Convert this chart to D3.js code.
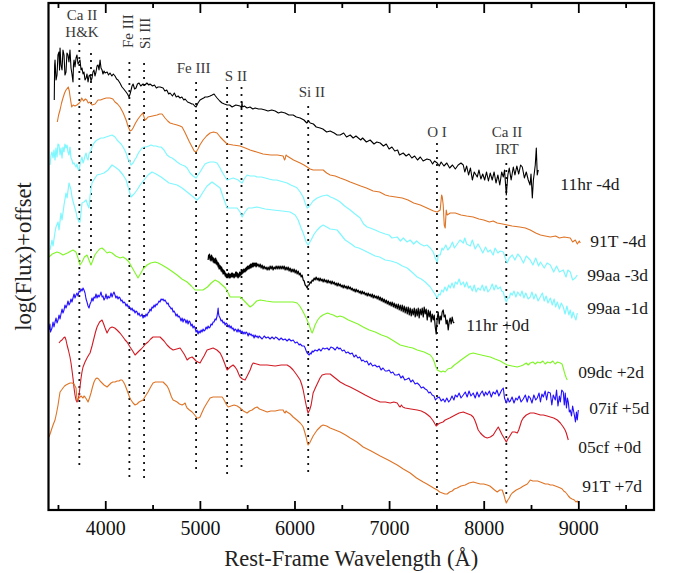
<!DOCTYPE html>
<html>
<head>
<meta charset="utf-8">
<script src="https://cdn.jsdelivr.net/npm/d3@7"></script>
<style>
  body { margin: 0; background: #fff; }
  svg { display: block; }
  text { font-family: "Liberation Serif", "DejaVu Serif", serif; }
</style>
</head>
<body>
<svg id="chart" width="673" height="573"></svg>
<script>
// Wavelength axis ticks (Å)
const majorTicks = [4000, 5000, 6000, 7000, 8000, 9000];
const minorTicks = [3500, 4500, 5500, 6500, 7500, 8500, 9500];

// Spectra: [rest-frame wavelength (Å), log(flux) + offset]
const sn11hrM4 = [
[3461,4.10],[3465,4.45],[3469,4.50],[3480,4.30],[3490,4.35],[3500,4.55],[3511,4.58],[3517,4.40],[3522,4.62],[3532,4.45],[3543,4.40],[3553,4.60],[3564,4.55],[3574,4.35],[3585,4.38],[3595,4.57],[3606,4.55],[3616,4.48],[3627,4.60],[3638,4.42],[3648,4.36],[3659,4.28],[3664,4.45],[3670,4.50],[3680,4.43],[3691,4.52],[3701,4.55],[3712,4.46],[3723,4.48],[3733,4.50],[3744,4.40],[3754,4.42],[3765,4.36],[3775,4.38],[3786,4.30],[3797,4.32],[3807,4.36],[3818,4.28],[3828,4.34],[3839,4.35],[3849,4.29],[3860,4.32],[3870,4.38],[3881,4.40],[3891,4.34],[3902,4.38],[3913,4.44],[3924,4.45],[3934,4.40],[3945,4.50],[3955,4.42],[3966,4.40],[3976,4.36],[3987,4.39],[3998,4.37],[4020,4.38],[4035,4.35],[4050,4.37],[4070,4.34],[4085,4.36],[4103,4.34],[4120,4.31],[4135,4.30],[4155,4.27],[4177,4.23],[4195,4.21],[4220,4.18],[4235,4.16],[4251,4.13],[4262,4.16],[4273,4.20],[4283,4.24],[4294,4.26],[4310,4.21],[4325,4.22],[4340,4.26],[4357,4.27],[4375,4.24],[4399,4.26],[4420,4.25],[4440,4.27],[4460,4.25],[4473,4.26],[4500,4.24],[4520,4.25],[4540,4.22],[4558,4.23],[4580,4.23],[4611,4.22],[4630,4.19],[4650,4.20],[4670,4.16],[4685,4.17],[4710,4.14],[4730,4.17],[4750,4.13],[4770,4.14],[4790,4.12],[4810,4.13],[4830,4.10],[4844,4.11],[4870,4.08],[4896,4.07],[4915,4.06],[4928,4.06],[4945,4.04],[4960,4.03],[4980,4.07],[5002,4.10],[5020,4.11],[5040,4.12],[5055,4.13],[5080,4.13],[5108,4.14],[5130,4.15],[5150,4.16],[5165,4.14],[5182,4.12],[5210,4.09],[5235,4.07],[5260,4.06],[5288,4.05],[5315,4.05],[5341,4.03],[5380,4.05],[5425,4.04],[5440,4.02],[5445,4.08],[5450,4.03],[5470,4.04],[5499,4.02],[5530,4.03],[5560,4.01],[5584,4.02],[5620,4.01],[5650,4.01],[5690,4.00],[5720,3.99],[5760,4.00],[5796,3.99],[5830,3.97],[5860,3.98],[5901,3.97],[5940,3.95],[5986,3.95],[6020,3.93],[6060,3.92],[6100,3.90],[6130,3.87],[6150,3.89],[6166,3.87],[6200,3.86],[6230,3.83],[6271,3.82],[6300,3.81],[6340,3.78],[6377,3.79],[6420,3.77],[6450,3.75],[6483,3.75],[6520,3.77],[6550,3.73],[6589,3.75],[6620,3.72],[6650,3.74],[6700,3.70],[6720,3.72],[6760,3.68],[6800,3.70],[6840,3.66],[6870,3.68],[6906,3.67],[6940,3.64],[6970,3.66],[7000,3.61],[7030,3.63],[7060,3.59],[7090,3.60],[7110,3.55],[7149,3.57],[7180,3.54],[7210,3.56],[7240,3.52],[7270,3.54],[7300,3.50],[7330,3.53],[7360,3.49],[7400,3.51],[7435,3.50],[7460,3.46],[7480,3.49],[7509,3.47],[7530,3.44],[7550,3.48],[7580,3.44],[7610,3.47],[7640,3.42],[7670,3.45],[7700,3.41],[7730,3.45],[7760,3.47],[7784,3.45],[7800,3.38],[7820,3.44],[7840,3.35],[7860,3.42],[7880,3.30],[7900,3.38],[7932,3.33],[7950,3.40],[7970,3.31],[7990,3.36],[8010,3.30],[8030,3.38],[8050,3.29],[8069,3.37],[8090,3.30],[8110,3.38],[8130,3.27],[8150,3.35],[8170,3.25],[8190,3.38],[8207,3.33],[8220,3.40],[8239,3.15],[8255,3.35],[8270,3.42],[8290,3.30],[8313,3.43],[8330,3.35],[8350,3.44],[8370,3.36],[8390,3.45],[8408,3.43],[8430,3.32],[8450,3.38],[8471,3.30],[8490,3.25],[8500,3.36],[8514,3.12],[8525,3.30],[8535,3.37],[8545,3.45],[8556,3.62],[8566,3.35],[8577,3.40]
];

const sn91TM4 = [
[3493,3.88],[3507,3.95],[3522,4.00],[3538,4.07],[3553,4.12],[3570,4.17],[3585,4.20],[3609,4.23],[3620,4.19],[3627,4.14],[3645,4.03],[3660,4.05],[3680,4.04],[3700,4.05],[3726,4.07],[3740,4.09],[3751,4.12],[3770,4.09],[3790,4.11],[3804,4.10],[3820,4.07],[3839,4.08],[3860,4.05],[3892,4.06],[3923,4.10],[3950,4.10],[3976,4.11],[4010,4.12],[4050,4.12],[4080,4.11],[4103,4.08],[4130,4.06],[4156,4.03],[4190,3.97],[4220,3.90],[4240,3.84],[4262,3.79],[4280,3.80],[4294,3.82],[4320,3.87],[4346,3.91],[4370,3.94],[4396,3.97],[4410,3.93],[4420,3.90],[4435,3.91],[4452,3.93],[4500,3.94],[4547,3.95],[4575,3.96],[4600,3.96],[4632,3.92],[4660,3.89],[4685,3.87],[4720,3.86],[4759,3.85],[4790,3.84],[4812,3.83],[4840,3.78],[4865,3.73],[4890,3.68],[4918,3.63],[4940,3.59],[4960,3.58],[4980,3.61],[5000,3.65],[5034,3.70],[5070,3.74],[5108,3.77],[5145,3.78],[5182,3.77],[5215,3.73],[5245,3.70],[5288,3.66],[5350,3.65],[5425,3.64],[5480,3.62],[5531,3.60],[5600,3.58],[5668,3.56],[5750,3.55],[5820,3.55],[5880,3.54],[5895,3.50],[5901,3.51],[5910,3.55],[5922,3.54],[5990,3.50],[6060,3.47],[6100,3.45],[6134,3.43],[6165,3.41],[6197,3.40],[6250,3.40],[6303,3.40],[6340,3.37],[6377,3.35],[6430,3.34],[6483,3.32],[6540,3.30],[6589,3.28],[6700,3.24],[6760,3.22],[6832,3.19],[6900,3.18],[6960,3.15],[7000,3.14],[7070,3.13],[7139,3.12],[7200,3.10],[7260,3.07],[7330,3.05],[7400,3.02],[7470,2.99],[7509,2.98],[7540,3.00],[7555,3.15],[7562,3.13],[7572,3.05],[7583,2.85],[7593,2.82],[7604,3.00],[7614,2.95],[7646,2.97],[7700,2.97],[7760,2.95],[7820,2.94],[7889,2.93],[7950,2.91],[8000,2.90],[8060,2.88],[8100,2.89],[8143,2.87],[8200,2.86],[8249,2.85],[8300,2.84],[8380,2.83],[8440,2.82],[8492,2.80],[8550,2.77],[8600,2.75],[8650,2.74],[8704,2.73],[8760,2.74],[8800,2.72],[8850,2.73],[8915,2.72],[8940,2.68],[8968,2.70],[8990,2.66],[9010,2.69],[9021,2.67]
];

const sn99aaM3 = [
[3416,3.45],[3427,3.55],[3437,3.58],[3448,3.52],[3458,3.60],[3469,3.50],[3479,3.62],[3490,3.53],[3500,3.66],[3511,3.65],[3522,3.55],[3532,3.62],[3543,3.52],[3553,3.63],[3564,3.58],[3574,3.66],[3585,3.62],[3596,3.65],[3606,3.58],[3617,3.55],[3627,3.63],[3638,3.52],[3648,3.50],[3659,3.46],[3670,3.47],[3680,3.45],[3691,3.43],[3701,3.46],[3712,3.41],[3723,3.40],[3733,3.45],[3744,3.50],[3754,3.53],[3765,3.47],[3775,3.50],[3786,3.54],[3797,3.57],[3807,3.52],[3818,3.50],[3828,3.56],[3839,3.58],[3849,3.60],[3860,3.63],[3881,3.67],[3900,3.69],[3913,3.70],[3935,3.71],[3955,3.72],[3980,3.72],[4008,3.73],[4040,3.74],[4072,3.75],[4103,3.73],[4125,3.70],[4145,3.68],[4167,3.66],[4188,3.63],[4205,3.60],[4220,3.57],[4240,3.51],[4251,3.50],[4272,3.45],[4294,3.47],[4310,3.50],[4325,3.52],[4340,3.55],[4357,3.58],[4389,3.62],[4410,3.63],[4431,3.63],[4460,3.64],[4484,3.65],[4510,3.64],[4537,3.64],[4565,3.63],[4590,3.63],[4621,3.60],[4653,3.55],[4680,3.53],[4706,3.52],[4735,3.50],[4759,3.48],[4790,3.46],[4812,3.45],[4840,3.44],[4865,3.42],[4896,3.37],[4928,3.34],[4960,3.32],[4980,3.35],[5002,3.38],[5034,3.43],[5055,3.46],[5076,3.47],[5108,3.48],[5130,3.48],[5150,3.48],[5182,3.47],[5214,3.42],[5235,3.38],[5267,3.33],[5288,3.30],[5320,3.31],[5351,3.32],[5380,3.31],[5404,3.30],[5430,3.28],[5447,3.27],[5468,3.31],[5499,3.35],[5530,3.34],[5552,3.34],[5580,3.34],[5605,3.33],[5650,3.33],[5690,3.32],[5730,3.31],[5774,3.30],[5810,3.30],[5848,3.29],[5885,3.28],[5922,3.27],[5960,3.25],[5986,3.24],[6010,3.23],[6028,3.22],[6060,3.18],[6092,3.13],[6113,3.07],[6134,3.02],[6150,3.03],[6166,3.05],[6197,3.09],[6240,3.12],[6292,3.14],[6345,3.15],[6380,3.13],[6409,3.12],[6450,3.10],[6483,3.08],[6530,3.04],[6589,3.00],[6640,2.96],[6694,2.92],[6730,2.86],[6768,2.83],[6800,2.82],[6853,2.80],[6900,2.78],[6959,2.76],[7000,2.75],[7030,2.72],[7086,2.73],[7120,2.69],[7150,2.72],[7190,2.68],[7223,2.70],[7260,2.66],[7290,2.69],[7329,2.66],[7370,2.64],[7400,2.65],[7435,2.62],[7467,2.58],[7488,2.52],[7509,2.48],[7520,2.55],[7540,2.55],[7560,2.62],[7572,2.60],[7600,2.65],[7620,2.60],[7646,2.63],[7670,2.68],[7690,2.62],[7720,2.66],[7750,2.70],[7784,2.67],[7800,2.72],[7820,2.66],[7858,2.64],[7880,2.70],[7910,2.61],[7940,2.66],[7964,2.62],[7990,2.57],[8020,2.63],[8045,2.58],[8069,2.60],[8100,2.55],[8120,2.62],[8150,2.57],[8175,2.59],[8207,2.58],[8228,2.52],[8249,2.47],[8270,2.52],[8302,2.55],[8330,2.50],[8360,2.56],[8387,2.53],[8420,2.47],[8450,2.54],[8492,2.50],[8520,2.45],[8550,2.52],[8580,2.44],[8600,2.48],[8640,2.42],[8670,2.47],[8704,2.45],[8740,2.38],[8770,2.44],[8800,2.38],[8841,2.40],[8870,2.33],[8890,2.40],[8915,2.38],[8940,2.30],[8968,2.32],[8989,2.35]
];

const sn99aaM1 = [
[3416,2.60],[3437,2.70],[3448,2.64],[3469,2.78],[3479,2.83],[3501,2.88],[3511,2.80],[3532,2.97],[3543,2.90],[3564,3.05],[3585,3.17],[3596,3.12],[3617,3.27],[3638,3.20],[3648,3.13],[3670,3.05],[3691,2.98],[3701,2.93],[3723,2.88],[3733,2.88],[3744,2.98],[3754,3.07],[3775,3.08],[3797,3.10],[3818,3.04],[3828,3.02],[3839,3.14],[3849,3.20],[3860,3.27],[3892,3.32],[3913,3.35],[3955,3.36],[3987,3.37],[4029,3.40],[4072,3.45],[4103,3.43],[4145,3.40],[4188,3.35],[4220,3.30],[4251,3.20],[4272,3.13],[4304,3.16],[4336,3.20],[4368,3.25],[4410,3.30],[4452,3.35],[4494,3.38],[4537,3.36],[4590,3.33],[4632,3.30],[4674,3.27],[4717,3.26],[4759,3.25],[4812,3.22],[4865,3.18],[4918,3.14],[4970,3.10],[5002,3.13],[5034,3.18],[5076,3.24],[5129,3.28],[5171,3.25],[5214,3.22],[5245,3.13],[5288,3.02],[5341,3.02],[5393,3.02],[5425,2.98],[5447,2.93],[5478,2.98],[5510,3.02],[5552,3.02],[5605,3.03],[5690,3.01],[5774,3.00],[5869,2.99],[5954,2.98],[6007,2.95],[6039,2.90],[6070,2.82],[6092,2.77],[6123,2.68],[6144,2.65],[6176,2.70],[6208,2.76],[6240,2.80],[6271,2.83],[6303,2.85],[6377,2.81],[6451,2.80],[6536,2.70],[6600,2.66],[6641,2.63],[6680,2.62],[6726,2.60],[6790,2.57],[6853,2.54],[6900,2.53],[6959,2.50],[7020,2.49],[7086,2.47],[7140,2.44],[7191,2.42],[7240,2.38],[7297,2.33],[7340,2.31],[7382,2.28],[7435,2.23],[7477,2.17],[7509,2.12],[7525,2.16],[7540,2.15],[7556,2.20],[7572,2.18],[7590,2.23],[7610,2.19],[7630,2.25],[7646,2.22],[7665,2.27],[7685,2.22],[7700,2.28],[7720,2.26],[7740,2.31],[7760,2.25],[7784,2.28],[7800,2.23],[7820,2.28],[7840,2.22],[7858,2.24],[7880,2.19],[7900,2.25],[7920,2.18],[7940,2.22],[7964,2.20],[7985,2.25],[8005,2.19],[8025,2.24],[8045,2.18],[8069,2.21],[8090,2.26],[8110,2.20],[8130,2.25],[8150,2.21],[8175,2.23],[8190,2.19],[8207,2.18],[8220,2.13],[8239,2.08],[8255,2.12],[8270,2.12],[8285,2.17],[8302,2.15],[8320,2.19],[8340,2.13],[8360,2.18],[8387,2.14],[8405,2.19],[8425,2.12],[8445,2.17],[8470,2.11],[8492,2.13],[8510,2.18],[8530,2.11],[8550,2.16],[8575,2.09],[8598,2.13],[8620,2.17],[8640,2.09],[8660,2.14],[8680,2.07],[8704,2.12],[8725,2.05],[8745,2.11],[8760,2.03],[8778,2.08],[8800,2.01],[8820,2.07],[8841,2.03],[8860,1.96],[8880,2.04],[8900,1.95],[8915,2.00],[8930,1.92],[8945,1.98],[8958,1.94],[8975,1.90],[8989,1.97]
];

const sn11hrP0 = [
[5087,2.50],[5092,2.55],[5097,2.52],[5102,2.56],[5108,2.50],[5113,2.54],[5118,2.49],[5124,2.55],[5130,2.50],[5135,2.53],[5140,2.48],[5146,2.52],[5151,2.47],[5156,2.51],[5161,2.47],[5167,2.52],[5172,2.46],[5177,2.50],[5182,2.45],[5188,2.48],[5193,2.43],[5198,2.47],[5203,2.41],[5209,2.45],[5214,2.41],[5219,2.44],[5224,2.39],[5230,2.43],[5235,2.38],[5240,2.41],[5245,2.36],[5251,2.40],[5256,2.36],[5261,2.39],[5267,2.34],[5272,2.37],[5277,2.33],[5282,2.36],[5288,2.32],[5293,2.36],[5298,2.33],[5304,2.37],[5309,2.32],[5314,2.36],[5320,2.32],[5325,2.36],[5330,2.33],[5336,2.37],[5341,2.33],[5346,2.37],[5351,2.33],[5357,2.36],[5362,2.32],[5367,2.36],[5372,2.33],[5378,2.38],[5383,2.34],[5388,2.38],[5393,2.33],[5399,2.37],[5404,2.32],[5409,2.36],[5414,2.33],[5420,2.38],[5425,2.34],[5430,2.38],[5436,2.35],[5441,2.40],[5446,2.36],[5452,2.40],[5457,2.37],[5462,2.41],[5468,2.38],[5473,2.41],[5478,2.38],[5484,2.42],[5489,2.39],[5494,2.43],[5499,2.40],[5505,2.44],[5510,2.41],[5515,2.44],[5520,2.41],[5526,2.45],[5531,2.42],[5536,2.46],[5541,2.42],[5547,2.46],[5552,2.43],[5557,2.47],[5563,2.43],[5568,2.47],[5573,2.44],[5579,2.47],[5584,2.44],[5590,2.47],[5595,2.43],[5600,2.47],[5605,2.44],[5615,2.46],[5626,2.43],[5637,2.46],[5647,2.42],[5658,2.45],[5668,2.41],[5679,2.44],[5690,2.41],[5700,2.43],[5711,2.40],[5721,2.43],[5732,2.40],[5743,2.44],[5753,2.41],[5764,2.44],[5774,2.40],[5785,2.43],[5796,2.41],[5806,2.44],[5817,2.41],[5827,2.44],[5838,2.41],[5848,2.44],[5859,2.41],[5870,2.44],[5880,2.41],[5891,2.44],[5901,2.40],[5912,2.43],[5922,2.40],[5933,2.43],[5943,2.39],[5954,2.42],[5965,2.38],[5975,2.41],[5986,2.38],[5996,2.41],[6007,2.37],[6018,2.40],[6028,2.36],[6039,2.39],[6050,2.35],[6060,2.37],[6071,2.33],[6081,2.35],[6092,2.30],[6102,2.29],[6113,2.25],[6123,2.24],[6134,2.22],[6145,2.25],[6155,2.25],[6166,2.28],[6176,2.27],[6187,2.30],[6197,2.29],[6208,2.32],[6218,2.30],[6229,2.33],[6240,2.30],[6250,2.32],[6261,2.29],[6271,2.32],[6282,2.29],[6292,2.31],[6303,2.28],[6314,2.31],[6324,2.28],[6335,2.30],[6345,2.27],[6356,2.30],[6366,2.27],[6377,2.29],[6388,2.26],[6398,2.29],[6409,2.26],[6420,2.28],[6430,2.25],[6441,2.27],[6451,2.24],[6462,2.27],[6472,2.24],[6483,2.26],[6494,2.23],[6504,2.25],[6515,2.22],[6525,2.25],[6536,2.22],[6546,2.24],[6557,2.21],[6568,2.24],[6578,2.21],[6589,2.23],[6600,2.20],[6610,2.22],[6621,2.19],[6631,2.21],[6642,2.18],[6652,2.21],[6663,2.18],[6673,2.20],[6684,2.17],[6695,2.19],[6705,2.16],[6716,2.19],[6726,2.16],[6737,2.18],[6748,2.15],[6758,2.17],[6769,2.14],[6779,2.17],[6790,2.14],[6800,2.16],[6811,2.13],[6822,2.16],[6832,2.12],[6843,2.15],[6853,2.12],[6864,2.14],[6874,2.11],[6885,2.14],[6896,2.10],[6906,2.13],[6917,2.09],[6927,2.12],[6938,2.08],[6948,2.11],[6959,2.07],[6970,2.10],[6980,2.06],[6991,2.09],[7001,2.05],[7012,2.08],[7022,2.04],[7033,2.08],[7044,2.03],[7054,2.07],[7065,2.02],[7075,2.06],[7086,2.01],[7097,2.06],[7107,2.00],[7118,2.05],[7128,1.99],[7139,2.05],[7149,1.98],[7160,2.04],[7170,1.97],[7181,2.03],[7192,1.96],[7202,2.03],[7213,1.95],[7223,2.02],[7234,1.94],[7244,2.01],[7255,1.95],[7266,2.02],[7276,1.93],[7287,2.01],[7297,1.94],[7308,2.02],[7318,1.92],[7329,2.01],[7340,1.95],[7350,2.02],[7361,1.93],[7371,2.03],[7382,1.96],[7392,2.01],[7403,1.90],[7414,2.00],[7424,1.93],[7435,1.99],[7445,1.88],[7456,1.96],[7467,1.90],[7477,1.95],[7488,1.83],[7498,1.76],[7509,1.92],[7519,1.98],[7530,1.86],[7540,1.94],[7551,1.90],[7561,1.98],[7572,2.00],[7582,1.93],[7593,1.95],[7603,1.86],[7614,1.90],[7625,1.80],[7635,1.88],[7646,1.92],[7656,1.86],[7667,1.93],[7677,1.88],[7688,1.87]
];

const sn09dcP2 = [
[3405,2.53],[3440,2.56],[3490,2.58],[3520,2.57],[3553,2.55],[3600,2.57],[3659,2.60],[3690,2.58],[3712,2.52],[3733,2.45],[3755,2.48],[3780,2.53],[3807,2.55],[3828,2.50],[3849,2.45],[3870,2.50],[3890,2.55],[3913,2.58],[3940,2.61],[3966,2.62],[3990,2.60],[4019,2.57],[4045,2.58],[4072,2.57],[4110,2.54],[4156,2.52],[4188,2.53],[4220,2.51],[4251,2.48],[4280,2.43],[4310,2.38],[4346,2.32],[4370,2.36],[4400,2.41],[4442,2.45],[4480,2.47],[4526,2.48],[4560,2.47],[4600,2.45],[4653,2.42],[4700,2.39],[4759,2.35],[4810,2.31],[4865,2.28],[4910,2.24],[4949,2.20],[4990,2.20],[5034,2.20],[5080,2.23],[5120,2.27],[5161,2.30],[5200,2.28],[5235,2.25],[5270,2.22],[5300,2.17],[5320,2.13],[5370,2.13],[5425,2.13],[5460,2.10],[5500,2.06],[5531,2.03],[5560,2.05],[5600,2.09],[5637,2.10],[5700,2.09],[5774,2.08],[5850,2.08],[5920,2.08],[5986,2.08],[6028,2.07],[6055,2.04],[6081,2.00],[6108,1.95],[6134,1.90],[6150,1.86],[6166,1.82],[6180,1.78],[6187,1.77],[6200,1.80],[6218,1.85],[6245,1.90],[6271,1.93],[6300,1.95],[6324,1.96],[6350,1.97],[6377,1.96],[6410,1.95],[6451,1.93],[6480,1.94],[6515,1.93],[6570,1.90],[6620,1.88],[6670,1.86],[6726,1.83],[6790,1.80],[6853,1.78],[6920,1.75],[6980,1.73],[7050,1.69],[7117,1.65],[7200,1.63],[7250,1.62],[7297,1.60],[7370,1.58],[7435,1.55],[7460,1.52],[7477,1.48],[7495,1.43],[7509,1.40],[7530,1.39],[7551,1.38],[7570,1.39],[7593,1.38],[7620,1.41],[7657,1.42],[7690,1.45],[7720,1.47],[7760,1.50],[7805,1.53],[7850,1.56],[7889,1.57],[7930,1.56],[7974,1.55],[8020,1.54],[8069,1.53],[8120,1.51],[8175,1.49],[8210,1.47],[8249,1.45],[8300,1.44],[8355,1.43],[8390,1.44],[8418,1.45],[8450,1.47],[8470,1.45],[8492,1.47],[8520,1.48],[8545,1.46],[8570,1.48],[8598,1.47],[8625,1.49],[8650,1.46],[8675,1.48],[8704,1.47],[8730,1.49],[8755,1.46],[8780,1.48],[8810,1.47],[8828,1.46],[8841,1.42],[8852,1.38],[8862,1.35],[8873,1.32],[8883,1.30]
];

const sn07ifP5 = [
[3405,1.80],[3415,1.86],[3421,1.78],[3437,1.82],[3448,1.88],[3458,1.83],[3469,1.88],[3480,1.92],[3490,1.87],[3501,1.90],[3511,1.95],[3522,1.91],[3532,1.96],[3543,2.01],[3553,1.97],[3564,2.00],[3574,2.05],[3585,2.02],[3596,2.05],[3606,2.09],[3617,2.05],[3627,2.07],[3638,2.11],[3648,2.08],[3659,2.12],[3670,2.16],[3680,2.12],[3691,2.15],[3701,2.17],[3712,2.14],[3723,2.19],[3733,2.18],[3744,2.21],[3754,2.19],[3765,2.22],[3775,2.20],[3786,2.17],[3797,2.11],[3807,2.08],[3818,2.04],[3828,2.02],[3839,2.06],[3849,2.08],[3860,2.12],[3870,2.09],[3881,2.13],[3892,2.12],[3902,2.16],[3913,2.12],[3924,2.15],[3934,2.13],[3945,2.15],[3955,2.18],[3966,2.13],[3976,2.14],[3987,2.10],[3998,2.12],[4008,2.16],[4019,2.11],[4030,2.14],[4040,2.12],[4050,2.13],[4061,2.17],[4072,2.13],[4082,2.16],[4092,2.18],[4103,2.15],[4113,2.12],[4124,2.14],[4135,2.11],[4145,2.13],[4156,2.12],[4166,2.09],[4177,2.10],[4188,2.07],[4198,2.08],[4209,2.07],[4220,2.04],[4230,2.06],[4241,2.03],[4251,2.04],[4262,2.02],[4272,2.00],[4283,2.02],[4294,1.99],[4304,2.00],[4315,1.97],[4325,1.99],[4336,1.98],[4346,1.95],[4357,1.97],[4368,1.94],[4378,1.94],[4389,1.96],[4399,1.92],[4410,1.94],[4420,1.93],[4431,1.96],[4441,1.94],[4452,1.97],[4463,1.98],[4473,2.01],[4484,1.99],[4494,2.03],[4505,2.02],[4516,2.05],[4526,2.03],[4537,2.06],[4547,2.05],[4558,2.07],[4568,2.09],[4579,2.08],[4590,2.11],[4600,2.10],[4611,2.11],[4621,2.09],[4632,2.10],[4643,2.08],[4653,2.06],[4664,2.07],[4674,2.04],[4685,2.03],[4696,2.01],[4706,2.02],[4717,1.98],[4727,1.99],[4738,1.97],[4748,1.94],[4759,1.96],[4770,1.93],[4780,1.94],[4791,1.92],[4801,1.89],[4812,1.92],[4822,1.88],[4833,1.91],[4844,1.90],[4854,1.87],[4865,1.90],[4875,1.86],[4886,1.89],[4896,1.88],[4907,1.84],[4918,1.86],[4928,1.82],[4939,1.84],[4949,1.82],[4960,1.78],[4970,1.80],[4981,1.76],[4991,1.79],[5002,1.77],[5013,1.80],[5023,1.78],[5034,1.81],[5044,1.79],[5055,1.80],[5066,1.83],[5076,1.81],[5087,1.84],[5097,1.82],[5108,1.83],[5118,1.86],[5129,1.85],[5140,1.88],[5150,1.88],[5161,1.91],[5171,1.90],[5182,1.94],[5188,1.98],[5193,2.02],[5198,1.96],[5203,1.94],[5214,1.92],[5224,1.89],[5235,1.90],[5245,1.87],[5256,1.88],[5267,1.85],[5277,1.87],[5288,1.86],[5299,1.83],[5309,1.85],[5320,1.82],[5330,1.84],[5341,1.81],[5351,1.82],[5362,1.79],[5372,1.81],[5383,1.80],[5393,1.78],[5404,1.81],[5414,1.78],[5425,1.80],[5436,1.77],[5446,1.79],[5457,1.76],[5467,1.78],[5478,1.76],[5488,1.78],[5499,1.77],[5510,1.74],[5520,1.77],[5531,1.75],[5541,1.76],[5552,1.74],[5563,1.75],[5573,1.72],[5584,1.75],[5594,1.73],[5605,1.74],[5616,1.72],[5626,1.74],[5637,1.73],[5658,1.71],[5680,1.74],[5700,1.72],[5721,1.73],[5742,1.71],[5763,1.73],[5785,1.71],[5800,1.73],[5817,1.72],[5838,1.70],[5859,1.72],[5880,1.70],[5901,1.71],[5922,1.69],[5943,1.71],[5965,1.69],[5986,1.70],[6007,1.67],[6028,1.68],[6049,1.65],[6060,1.66],[6081,1.64],[6102,1.64],[6113,1.62],[6124,1.59],[6134,1.57],[6145,1.56],[6155,1.55],[6166,1.57],[6176,1.56],[6187,1.59],[6197,1.58],[6218,1.60],[6240,1.59],[6260,1.61],[6280,1.59],[6300,1.62],[6320,1.61],[6345,1.62],[6365,1.60],[6385,1.63],[6409,1.62],[6430,1.60],[6450,1.63],[6470,1.61],[6483,1.62],[6505,1.59],[6525,1.60],[6545,1.57],[6565,1.58],[6589,1.56],[6610,1.57],[6630,1.53],[6650,1.55],[6670,1.52],[6690,1.53],[6710,1.49],[6726,1.50],[6745,1.48],[6765,1.49],[6785,1.45],[6805,1.47],[6825,1.44],[6850,1.45],[6874,1.43],[6895,1.44],[6915,1.40],[6935,1.42],[6960,1.39],[6980,1.39],[7000,1.40],[7020,1.37],[7040,1.38],[7060,1.35],[7086,1.35],[7105,1.36],[7125,1.32],[7145,1.34],[7165,1.30],[7191,1.31],[7210,1.32],[7230,1.28],[7250,1.30],[7275,1.26],[7297,1.27],[7320,1.25],[7340,1.22],[7360,1.23],[7382,1.21],[7400,1.20],[7420,1.17],[7435,1.18],[7455,1.15],[7475,1.14],[7490,1.10],[7509,1.12],[7530,1.13],[7550,1.09],[7572,1.11],[7590,1.08],[7610,1.12],[7630,1.08],[7646,1.10],[7665,1.14],[7685,1.10],[7700,1.15],[7720,1.13],[7740,1.17],[7760,1.12],[7784,1.15],[7805,1.18],[7825,1.13],[7845,1.19],[7865,1.14],[7889,1.17],[7910,1.12],[7930,1.18],[7950,1.13],[7964,1.16],[7985,1.19],[8005,1.14],[8020,1.18],[8037,1.15],[8060,1.19],[8080,1.13],[8100,1.18],[8122,1.16],[8140,1.20],[8160,1.14],[8175,1.17],[8190,1.20],[8207,1.22],[8220,1.12],[8239,1.07],[8255,1.12],[8270,1.08],[8281,1.09],[8300,1.13],[8320,1.07],[8340,1.12],[8355,1.10],[8375,1.14],[8395,1.08],[8418,1.11],[8440,1.15],[8460,1.08],[8475,1.14],[8492,1.12],[8510,1.07],[8530,1.15],[8550,1.10],[8566,1.12],[8585,1.17],[8600,1.08],[8615,1.16],[8630,1.13],[8650,1.19],[8665,1.10],[8680,1.18],[8704,1.17],[8720,1.05],[8735,1.15],[8757,1.10],[8770,1.20],[8785,1.04],[8800,1.14],[8810,1.08],[8825,1.20],[8841,1.18],[8852,1.05],[8862,1.17],[8875,1.02],[8885,1.12],[8894,1.08],[8905,0.98],[8915,1.00],[8928,0.94],[8940,1.04],[8958,0.95],[8970,0.88],[8980,0.98],[8989,0.90],[9000,1.00]
];

const sn05cfP0 = [
[3511,1.67],[3527,1.69],[3543,1.70],[3558,1.72],[3574,1.73],[3585,1.70],[3596,1.65],[3610,1.60],[3627,1.53],[3638,1.47],[3648,1.40],[3660,1.31],[3670,1.22],[3680,1.15],[3691,1.10],[3701,1.08],[3712,1.10],[3723,1.15],[3733,1.23],[3744,1.32],[3754,1.38],[3765,1.43],[3786,1.48],[3807,1.52],[3825,1.55],[3839,1.57],[3860,1.64],[3881,1.72],[3897,1.78],[3913,1.83],[3940,1.88],[3966,1.90],[3983,1.86],[3998,1.82],[4019,1.77],[4035,1.80],[4050,1.82],[4072,1.83],[4100,1.82],[4124,1.80],[4155,1.77],[4188,1.73],[4210,1.70],[4230,1.68],[4262,1.63],[4290,1.59],[4315,1.55],[4336,1.57],[4357,1.59],[4380,1.61],[4399,1.63],[4425,1.66],[4452,1.68],[4480,1.71],[4505,1.73],[4540,1.73],[4579,1.73],[4600,1.71],[4621,1.69],[4653,1.65],[4685,1.62],[4717,1.60],[4755,1.61],[4791,1.62],[4812,1.59],[4833,1.56],[4850,1.53],[4865,1.50],[4890,1.52],[4918,1.53],[4940,1.51],[4960,1.49],[4980,1.48],[5002,1.47],[5025,1.51],[5044,1.54],[5060,1.57],[5076,1.60],[5108,1.61],[5140,1.62],[5180,1.60],[5214,1.57],[5235,1.53],[5256,1.48],[5272,1.44],[5288,1.40],[5320,1.43],[5351,1.45],[5372,1.43],[5393,1.40],[5410,1.36],[5425,1.33],[5450,1.31],[5478,1.30],[5500,1.34],[5531,1.40],[5550,1.45],[5563,1.47],[5600,1.46],[5637,1.45],[5711,1.45],[5796,1.44],[5860,1.45],[5922,1.45],[5955,1.43],[5986,1.40],[6025,1.35],[6060,1.30],[6078,1.25],[6092,1.20],[6108,1.12],[6123,1.05],[6135,1.00],[6144,0.97],[6160,1.00],[6176,1.05],[6197,1.17],[6225,1.23],[6250,1.28],[6270,1.32],[6292,1.35],[6330,1.36],[6377,1.36],[6430,1.32],[6483,1.28],[6540,1.25],[6589,1.23],[6670,1.19],[6747,1.15],[6830,1.11],[6906,1.08],[6960,1.08],[7012,1.07],[7050,1.08],[7086,1.07],[7105,1.04],[7117,1.03],[7130,1.05],[7145,1.03],[7170,1.02],[7230,1.01],[7297,1.00],[7340,0.99],[7382,0.97],[7410,0.95],[7435,0.93],[7467,0.89],[7485,0.86],[7498,0.84],[7520,0.86],[7540,0.87],[7570,0.88],[7593,0.90],[7640,0.92],[7699,0.95],[7740,0.97],[7784,0.98],[7810,0.97],[7837,0.96],[7865,0.95],[7889,0.93],[7905,0.90],[7921,0.86],[7942,0.80],[7965,0.77],[7985,0.75],[8010,0.73],[8037,0.72],[8070,0.73],[8101,0.75],[8120,0.78],[8133,0.80],[8154,0.83],[8165,0.81],[8175,0.79],[8196,0.75],[8215,0.72],[8239,0.68],[8255,0.71],[8270,0.73],[8302,0.78],[8330,0.78],[8355,0.77],[8370,0.80],[8387,0.85],[8400,0.89],[8418,0.92],[8450,0.95],[8492,0.97],[8530,0.97],[8566,0.96],[8600,0.95],[8630,0.95],[8670,0.94],[8704,0.93],[8740,0.92],[8778,0.90],[8810,0.87],[8841,0.83],[8860,0.80],[8873,0.77],[8885,0.73],[8894,0.70]
];

const sn91TP7 = [
[3405,0.73],[3420,0.77],[3437,0.82],[3452,0.86],[3469,0.90],[3485,0.97],[3501,1.05],[3512,1.12],[3522,1.18],[3538,1.20],[3553,1.22],[3570,1.24],[3585,1.25],[3605,1.26],[3627,1.27],[3650,1.27],[3670,1.26],[3680,1.24],[3691,1.22],[3696,1.16],[3701,1.10],[3712,1.11],[3723,1.12],[3733,1.13],[3744,1.14],[3754,1.13],[3765,1.12],[3775,1.14],[3786,1.13],[3800,1.11],[3818,1.08],[3833,1.12],[3849,1.17],[3865,1.23],[3881,1.28],[3897,1.31],[3913,1.32],[3930,1.31],[3945,1.29],[3966,1.27],[3987,1.25],[4003,1.24],[4019,1.23],[4040,1.25],[4061,1.27],[4080,1.28],[4103,1.28],[4125,1.29],[4145,1.29],[4160,1.30],[4177,1.30],[4193,1.28],[4209,1.25],[4225,1.21],[4241,1.17],[4256,1.13],[4272,1.10],[4294,1.07],[4315,1.05],[4336,1.06],[4357,1.08],[4378,1.09],[4399,1.10],[4425,1.14],[4452,1.18],[4480,1.23],[4505,1.27],[4530,1.28],[4558,1.28],[4585,1.28],[4611,1.28],[4632,1.26],[4653,1.24],[4670,1.21],[4685,1.17],[4700,1.13],[4717,1.10],[4740,1.09],[4759,1.08],[4785,1.06],[4812,1.05],[4830,1.06],[4844,1.07],[4855,1.04],[4865,1.02],[4890,1.00],[4918,0.98],[4945,0.95],[4970,0.92],[4985,0.92],[5002,0.93],[5020,0.97],[5044,1.02],[5075,1.07],[5108,1.12],[5140,1.13],[5171,1.13],[5205,1.13],[5235,1.13],[5250,1.11],[5267,1.08],[5283,1.05],[5299,1.03],[5330,1.04],[5362,1.05],[5395,1.04],[5425,1.02],[5460,0.99],[5499,0.97],[5525,0.99],[5552,1.00],[5580,1.02],[5605,1.03],[5630,1.01],[5658,1.00],[5685,0.99],[5711,0.98],[5750,0.99],[5796,0.99],[5840,1.00],[5880,1.00],[5890,0.98],[5901,0.97],[5910,0.99],[5922,0.98],[5955,0.96],[5986,0.93],[6025,0.90],[6060,0.87],[6078,0.85],[6092,0.83],[6108,0.78],[6123,0.73],[6134,0.68],[6144,0.65],[6160,0.67],[6176,0.70],[6197,0.74],[6218,0.77],[6240,0.80],[6261,0.82],[6282,0.84],[6303,0.85],[6340,0.84],[6377,0.82],[6430,0.80],[6483,0.78],[6540,0.75],[6589,0.72],[6660,0.68],[6726,0.63],[6810,0.59],[6906,0.54],[6990,0.50],[7086,0.45],[7150,0.41],[7223,0.37],[7290,0.32],[7361,0.28],[7400,0.26],[7435,0.24],[7470,0.22],[7509,0.20],[7535,0.18],[7562,0.17],[7590,0.16],[7614,0.16],[7640,0.18],[7667,0.19],[7690,0.21],[7720,0.22],[7760,0.24],[7805,0.25],[7845,0.27],[7889,0.28],[7925,0.27],[7964,0.26],[8000,0.26],[8037,0.25],[8065,0.24],[8090,0.22],[8115,0.20],[8143,0.18],[8170,0.20],[8196,0.20],[8210,0.16],[8217,0.14],[8228,0.10],[8239,0.07],[8255,0.10],[8270,0.12],[8285,0.15],[8302,0.17],[8344,0.20],[8387,0.22],[8420,0.24],[8461,0.26],[8492,0.30],[8520,0.29],[8545,0.29],[8570,0.29],[8598,0.28],[8625,0.27],[8651,0.26],[8680,0.26],[8704,0.25],[8730,0.25],[8757,0.24],[8785,0.23],[8810,0.22],[8830,0.21],[8845,0.19],[8862,0.18],[8880,0.16],[8895,0.14],[8915,0.12],[8935,0.11],[8958,0.10],[8975,0.08],[8990,0.09],[9000,0.07]
];

// Series order, legend text and where each legend text sits (Å, log flux + offset)
const seriesNames = ["11hr -4d", "91T -4d", "99aa -3d", "99aa -1d", "11hr +0d", "09dc +2d", "07if +5d", "05cf +0d", "91T +7d"];
const seriesData = [sn11hrM4, sn91TM4, sn99aaM3, sn99aaM1, sn11hrP0, sn09dcP2, sn07ifP5, sn05cfP0, sn91TP7];
const labelWave = [8810, 9127, 9095, 9095, 7815, 9000, 9116, 9000, 9042];
const labelValue = [3.20, 2.63, 2.29, 1.96, 1.79, 1.32, 0.96, 0.57, 0.18];

// Line identifications: wavelength and vertical extent of each dotted marker
const featureWave = [3726, 3849, 4255, 4410, 4960, 5288, 5440, 6145, 7506, 8239];
const featureTop = [4.67, 4.57, 4.48, 4.47, 4.28, 4.23, 4.23, 4.04, 3.67, 3.47];
const featureBottom = [0.41, 2.48, 0.31, 0.28, 0.39, 0.34, 0.41, 0.35, 0.13, 0.13];

// Ion labels: text, anchor wavelength, anchor value, upright (0) or rotated (1)
const ionText = ["Ca II", "H&K", "Fe III", "Si III", "Fe III", "S II", "Si II", "O I", "Ca II", "IRT"];
const ionWave = [3754, 3754, 4294, 4473, 4933, 5381, 6184, 7506, 8246, 8246];
const ionValue = [4.90, 4.73, 4.62, 4.61, 4.37, 4.29, 4.13, 3.73, 3.73, 3.56];
const ionRotated = [0, 0, 1, 1, 0, 0, 0, 0, 0, 0];

// Styling
const FONT = "'Liberation Serif', 'DejaVu Serif', serif";
const seriesColor = ["#000000", "#de7426", "#7ff7ff", "#7ff7ff", "#000000", "#7ff526", "#2410ff", "#d11b24", "#de7426"];
const seriesWidth = [1.1, 1.1, 1.2, 1.2, 1.2, 1.1, 1.1, 1.1, 1.1];

const svg = d3.select("#chart");
const pL = 48.5, pR = 654, pT = 3, pB = 510;

const x = d3.scaleLinear().domain([3400, 9800]).range([pL, pR]);
const y = d3.scaleLinear().domain([0, 5.07]).range([pB, pT]);

const plot = svg.append("g");
plot.append("clipPath").attr("id", "clip")
  .append("rect").attr("x", pL).attr("y", pT).attr("width", pR - pL).attr("height", pB - pT);

// dotted line-identification markers
plot.append("g").selectAll("line").data(featureWave).join("line")
  .attr("x1", d => x(d)).attr("x2", d => x(d))
  .attr("y1", (d, i) => y(featureTop[i])).attr("y2", (d, i) => y(featureBottom[i]))
  .attr("stroke", "#111").attr("stroke-width", 1.8)
  .attr("stroke-dasharray", "2,5");

// spectra
const line = d3.line().x(d => x(d[0])).y(d => y(d[1]));
plot.append("g").attr("clip-path", "url(#clip)")
  .selectAll("path").data(seriesData).join("path")
  .attr("d", line)
  .attr("fill", "none")
  .attr("stroke", (d, i) => seriesColor[i])
  .attr("stroke-width", (d, i) => seriesWidth[i])
  .attr("stroke-linejoin", "round");

// ion labels
const ions = plot.append("g").attr("fill", "#3a3a3a").attr("font-size", 15).attr("font-family", FONT);
ionText.forEach((t, i) => {
  if (ionRotated[i]) {
    ions.append("text")
      .attr("transform", `translate(${x(ionWave[i])},${y(ionValue[i])}) rotate(-90)`)
      .attr("text-anchor", "start").text(t);
  } else {
    ions.append("text")
      .attr("x", x(ionWave[i])).attr("y", y(ionValue[i]))
      .attr("text-anchor", "middle").text(t);
  }
});

// series labels
plot.append("g").attr("fill", "#1a1a1a").attr("font-size", 17.5).attr("font-family", FONT)
  .selectAll("text").data(seriesNames).join("text")
  .attr("x", (d, i) => x(labelWave[i]))
  .attr("y", (d, i) => y(labelValue[i]))
  .text(d => d);

// axes: ticks point inward on bottom and top
const axisG = svg.append("g");
const bottomMajor = d3.axisBottom(x).tickValues(majorTicks).tickSize(-9).tickPadding(11).tickFormat(d3.format("d"));
const bottomMinor = d3.axisBottom(x).tickValues(minorTicks).tickSize(-5).tickFormat("");
const topMajor = d3.axisTop(x).tickValues(majorTicks).tickSize(-10).tickFormat("");
const topMinor = d3.axisTop(x).tickValues(minorTicks).tickSize(-5).tickFormat("");

function styleAxis(g) {
  g.attr("font-family", FONT);
  g.select(".domain").remove();
  g.selectAll(".tick line").attr("stroke", "#000").attr("stroke-width", 1.8);
  g.selectAll(".tick text").attr("fill", "#111").attr("font-size", 20).attr("font-family", FONT);
}
axisG.append("g").attr("transform", `translate(0,${pB})`).call(bottomMajor).call(styleAxis);
axisG.append("g").attr("transform", `translate(0,${pB})`).call(bottomMinor).call(styleAxis);
axisG.append("g").attr("transform", `translate(0,${pT})`).call(topMajor).call(styleAxis);
axisG.append("g").attr("transform", `translate(0,${pT})`).call(topMinor).call(styleAxis);

// frame
svg.append("rect")
  .attr("x", pL).attr("y", pT).attr("width", pR - pL).attr("height", pB - pT)
  .attr("fill", "none").attr("stroke", "#000").attr("stroke-width", 2.2);

// axis titles
svg.append("text")
  .attr("x", (pL + pR) / 2).attr("y", 566)
  .attr("text-anchor", "middle").attr("font-size", 22.5).attr("fill", "#222").attr("font-family", FONT)
  .text("Rest-Frame Wavelength (Å)");
svg.append("text")
  .attr("transform", `translate(31,${(pT + pB) / 2}) rotate(-90)`)
  .attr("text-anchor", "middle").attr("font-size", 22.5).attr("fill", "#222").attr("font-family", FONT)
  .text("log(Flux)+offset");
</script>
</body>
</html>
